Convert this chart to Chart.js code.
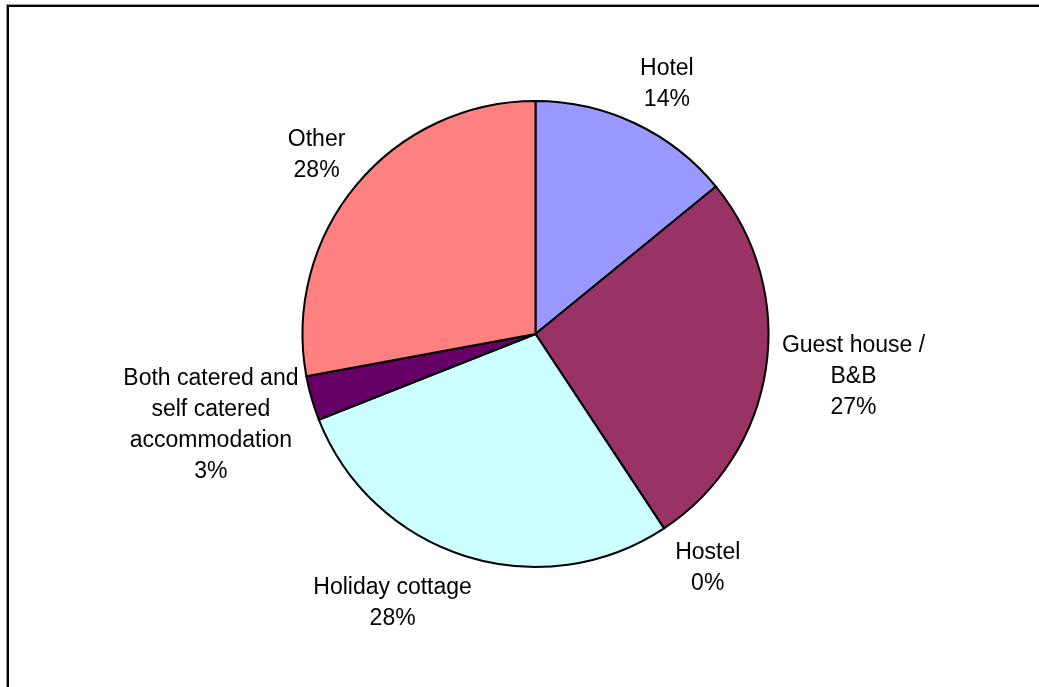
<!DOCTYPE html>
<html>
<head>
<meta charset="utf-8">
<title>Accommodation type</title>
<script src="https://cdn.jsdelivr.net/npm/chart.js@4/dist/chart.umd.min.js"></script>
<style>
  html, body { margin: 0; padding: 0; background: #ffffff; overflow: hidden; }
  #wrap { position: relative; width: 1039px; height: 687px; }
  canvas { display: block; }
</style>
</head>
<body>
<div id="wrap"><canvas id="chart" width="1039" height="687"></canvas></div>
<script>
// Accommodation categories (clockwise from 12 o'clock)
const categories = [
  ["Hotel"],
  ["Guest house /", "B&B"],
  ["Hostel"],
  ["Holiday cottage"],
  ["Both catered and", "self catered", "accommodation"],
  ["Other"]
];

// Share of responses, percent
const shares = [14.1, 26.6, 0, 28.3, 3.1, 27.9];

// Slice fills
const sliceColors = ["#9999FF", "#993366", "#FFFFCC", "#CCFFFF", "#660066", "#FF8080"];

// Small shifts applied to each label after it is placed beside its slice
const labelNudge = [[14, -1], [3, -3], [18, 0], [-45, 2], [-3, 4], [-7, -3]];

const FONT_SIZE = 23;
const LINE_H = 31;
const FONT = FONT_SIZE + 'px "Liberation Sans", Arial, sans-serif';

// Outer frame of the chart
const framePlugin = {
  id: 'frame',
  beforeDraw(chart) {
    const ctx = chart.ctx;
    ctx.save();
    ctx.fillStyle = '#9a9a9a';
    ctx.fillRect(6, 4, chart.width - 6, 1);
    ctx.fillRect(6, 4, 1, chart.height - 4);
    ctx.fillStyle = '#000000';
    ctx.fillRect(7, 5, chart.width - 7, 2);
    ctx.fillRect(7, 5, 2, chart.height - 5);
    ctx.restore();
  }
};

// Category name and rounded percentage outside each slice
const outsideLabels = {
  id: 'outsideLabels',
  afterDatasetsDraw(chart) {
    const ctx = chart.ctx;
    const meta = chart.getDatasetMeta(0);
    const values = chart.data.datasets[0].data;
    const total = values.reduce((a, b) => a + b, 0);
    ctx.save();
    ctx.font = FONT;
    ctx.fillStyle = '#000000';
    ctx.textAlign = 'center';
    ctx.textBaseline = 'alphabetic';
    meta.data.forEach((arc, i) => {
      const p = arc.getProps(['x', 'y', 'startAngle', 'endAngle', 'outerRadius'], true);
      const mid = (p.startAngle + p.endAngle) / 2;
      const dx = Math.cos(mid), dy = Math.sin(mid);
      const lines = categories[i].concat([Math.round(values[i] / total * 100) + '%']);
      const w = Math.max(...lines.map(t => ctx.measureText(t).width));
      const h = lines.length * LINE_H;
      const R = p.outerRadius + 14;
      const cx = p.x + dx * (R + w / 2) + labelNudge[i][0];
      const cy = p.y + dy * (R + h / 2) + labelNudge[i][1];
      const top = cy - h / 2 + LINE_H / 2;
      lines.forEach((t, k) => {
        const capMid = top + k * LINE_H;
        ctx.fillText(t, cx, capMid + FONT_SIZE * 0.358);
      });
    });
    ctx.restore();
  }
};

new Chart(document.getElementById('chart'), {
  type: 'pie',
  data: {
    labels: categories.map(c => c.join(' ')),
    datasets: [{
      data: shares,
      backgroundColor: sliceColors,
      borderColor: '#000000',
      borderWidth: 2,
      borderJoinStyle: 'miter'
    }]
  },
  options: {
    responsive: false,
    animation: false,
    radius: 233,
    layout: { padding: { left: 32, right: 0, top: 0, bottom: 19 } },
    plugins: {
      legend: { display: false },
      tooltip: { enabled: false }
    }
  },
  plugins: [framePlugin, outsideLabels]
});
</script>
</body>
</html>
